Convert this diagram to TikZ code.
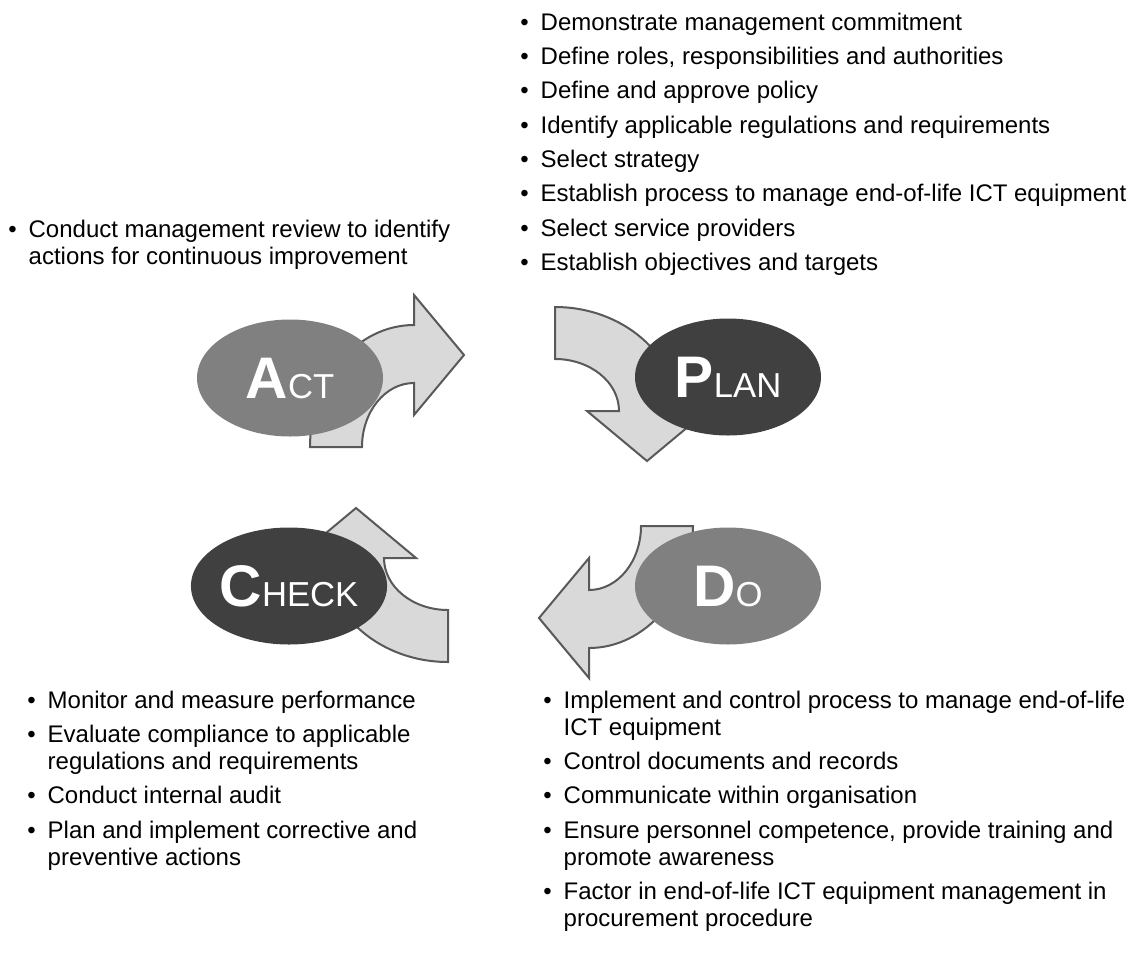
\documentclass[tikz,border=0pt]{standalone}
\usepackage{fontspec}
\setmainfont{Liberation Sans}
\usetikzlibrary{shapes.geometric}

\definecolor{arrowfill}{HTML}{D9D9D9}
\definecolor{arrowedge}{HTML}{595959}
\definecolor{phaselight}{HTML}{808080}
\definecolor{phasedark}{HTML}{404040}

% bold initial, small capitals for the rest
\newcommand{\phasename}[2]{{\fontsize{44}{44}\selectfont\bfseries #1}{\fontsize{26}{26}\selectfont #2}}
\newcommand{\nexttask}{\\[5.5pt]}
\newenvironment{steplist}{\fontsize{18}{20.25}\selectfont\begin{tabular}[t]{@{}l@{\hspace{9pt}}l@{}}}{\end{tabular}}

\begin{document}
\begin{tikzpicture}[
  x=0.75pt, y=-0.75pt,
  phase/.style={ellipse,minimum width=139.5pt,minimum height=87.75pt,inner sep=0pt,text=white},
  cyclebody/.style={draw=arrowedge,fill=arrowfill,line width=1.5pt},
  tasklist/.style={anchor=base west,inner sep=0pt},
  cyclearrow/.pic={
    \path[cyclebody] (-104,0) -- (-52,0)
      .. controls (-52,-35) and (-29,-64) .. (0,-64)
      -- (0,-32) -- (50,-92) -- (0,-152) -- (0,-122)
      .. controls (-57,-122) and (-104,-67) .. (-104,0) -- cycle;
  }
]
  \useasboundingbox (0,0) rectangle (1131,957);

  % curved arrows, drawn first so the ellipses cover them
  \pic at (414,447) {cyclearrow};
  \pic[rotate=-90] at (555,411) {cyclearrow};
  \pic[rotate=180] at (589,526) {cyclearrow};
  \pic[rotate=90] at (448,558) {cyclearrow};

  % the four phases
  \node[phase,fill=phaselight] (act) at (290,378) {\phasename{A}{CT}};
  \node[phase,fill=phasedark] (plan) at (728,377) {\phasename{P}{LAN}};
  \node[phase,fill=phaselight] (do) at (728,586) {\phasename{D}{O}};
  \node[phase,fill=phasedark] (check) at (289,586) {\phasename{C}{HECK}};

  % tasks of each phase
  \node[tasklist] (plantasks) at (520,30) {\begin{steplist}
    \textbullet & Demonstrate management commitment\nexttask
    \textbullet & Define roles, responsibilities and authorities\nexttask
    \textbullet & Define and approve policy\nexttask
    \textbullet & Identify applicable regulations and requirements\nexttask
    \textbullet & Select strategy\nexttask
    \textbullet & Establish process to manage end-of-life ICT equipment\nexttask
    \textbullet & Select service providers\nexttask
    \textbullet & Establish objectives and targets
  \end{steplist}};
  \node[tasklist] (acttasks) at (8,237) {\begin{steplist}
    \textbullet & Conduct management review to identify\\
                & actions for continuous improvement
  \end{steplist}};
  \node[tasklist] (checktasks) at (27,708) {\begin{steplist}
    \textbullet & Monitor and measure performance\nexttask
    \textbullet & Evaluate compliance to applicable\\
                & regulations and requirements\nexttask
    \textbullet & Conduct internal audit\nexttask
    \textbullet & Plan and implement corrective and\\
                & preventive actions
  \end{steplist}};
  \node[tasklist] (dotasks) at (543,708) {\begin{steplist}
    \textbullet & Implement and control process to manage end-of-life\\
                & ICT equipment\nexttask
    \textbullet & Control documents and records\nexttask
    \textbullet & Communicate within organisation\nexttask
    \textbullet & Ensure personnel competence, provide training and\\
                & promote awareness\nexttask
    \textbullet & Factor in end-of-life ICT equipment management in\\
                & procurement procedure
  \end{steplist}};
\end{tikzpicture}
\end{document}
